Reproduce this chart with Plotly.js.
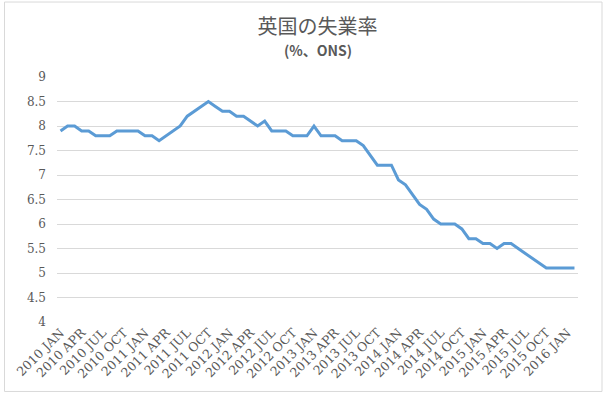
<!DOCTYPE html>
<html>
<head>
<meta charset="utf-8">
<script src="https://cdn.plot.ly/plotly-3.0.1.min.js"></script>
<style>
html,body{margin:0;padding:0;background:#fff;}
#chart{width:605px;height:395px;}
</style>
</head>
<body>
<div id="chart"></div>
<script>
// Data: UK unemployment rate (%), monthly, 2010 JAN - 2016 FEB
const startYear = 2010;
const monthNames = ['JAN','FEB','MAR','APR','MAY','JUN','JUL','AUG','SEP','OCT','NOV','DEC'];
const rate = [
  7.9, 8.0, 8.0, 7.9, 7.9, 7.8, 7.8, 7.8, 7.9, 7.9, 7.9, 7.9,   // 2010
  7.8, 7.8, 7.7, 7.8, 7.9, 8.0, 8.2, 8.3, 8.4, 8.5, 8.4, 8.3,   // 2011
  8.3, 8.2, 8.2, 8.1, 8.0, 8.1, 7.9, 7.9, 7.9, 7.8, 7.8, 7.8,   // 2012
  8.0, 7.8, 7.8, 7.8, 7.7, 7.7, 7.7, 7.6, 7.4, 7.2, 7.2, 7.2,   // 2013
  6.9, 6.8, 6.6, 6.4, 6.3, 6.1, 6.0, 6.0, 6.0, 5.9, 5.7, 5.7,   // 2014
  5.6, 5.6, 5.5, 5.6, 5.6, 5.5, 5.4, 5.3, 5.2, 5.1, 5.1, 5.1,   // 2015
  5.1, 5.1                                                      // 2016
];
const tickLabels = [
  '2010 JAN','2010 APR','2010 JUL','2010 OCT',
  '2011 JAN','2011 APR','2011 JUL','2011 OCT',
  '2012 JAN','2012 APR','2012 JUL','2012 OCT',
  '2013 JAN','2013 APR','2013 JUL','2013 OCT',
  '2014 JAN','2014 APR','2014 JUL','2014 OCT',
  '2015 JAN','2015 APR','2015 JUL','2015 OCT',
  '2016 JAN'
];
const titleText = '英国の失業率';
const subtitleText = '(%、ONS)';

const categories = rate.map((v, i) => (startYear + Math.floor(i / 12)) + ' ' + monthNames[i % 12]);

const trace = {
  x: categories,
  y: rate,
  type: 'scatter',
  mode: 'lines',
  line: {color: '#5b9bd5', width: 3, shape: 'linear'},
  hoverinfo: 'x+y'
};

const serif = 'DejaVu Serif, Times New Roman, serif';
const layout = {
  width: 605,
  height: 395,
  margin: {l: 57, r: 27, t: 77, b: 73, pad: 0},
  paper_bgcolor: '#ffffff',
  plot_bgcolor: '#ffffff',
  showlegend: false,
  font: {family: serif},
  title: {
    text: titleText,
    font: {family: 'Noto Sans CJK JP', size: 20, color: '#595959'},
    x: 0.5, xref: 'paper', xanchor: 'center',
    y: 1 - 27 / 395, yref: 'container', yanchor: 'middle'
  },
  annotations: [{
    text: '<b>' + subtitleText + '</b>',
    xref: 'paper', yref: 'paper',
    x: 0.5, y: 1 + (77.3 - 50) / 244.4,
    xanchor: 'center', yanchor: 'middle',
    showarrow: false,
    font: {family: 'Noto Sans CJK JP', size: 14, color: '#595959'}
  }],
  xaxis: {
    type: 'category',
    range: [-0.5, rate.length - 0.5],
    tickmode: 'array',
    tickvals: tickLabels,
    ticktext: tickLabels,
    tickangle: -45,
    ticks: '',
    showgrid: false,
    zeroline: false,
    showline: false,
    tickfont: {family: serif, size: 12.5, color: '#595959'},
    automargin: false
  },
  yaxis: {
    range: [4, 9],
    dtick: 0.5,
    tick0: 4,
    showgrid: true,
    gridcolor: '#d9d9d9',
    gridwidth: 1,
    zeroline: false,
    showline: false,
    ticks: '',
    ticklabelstandoff: 10,
    tickfont: {family: serif, size: 12, color: '#595959'},
    automargin: false
  },
  shapes: [{
    type: 'rect',
    xref: 'paper', yref: 'paper',
    x0: (4.5 - 57) / 521, x1: (602 - 57) / 521,
    y0: (321.7 - 391) / 244.4, y1: (321.7 - 2.5) / 244.4,
    line: {color: '#d9d9d9', width: 1},
    fillcolor: 'rgba(0,0,0,0)',
    layer: 'below'
  }]
};

Plotly.newPlot('chart', [trace], layout, {displayModeBar: false, staticPlot: true});
</script>
</body>
</html>
